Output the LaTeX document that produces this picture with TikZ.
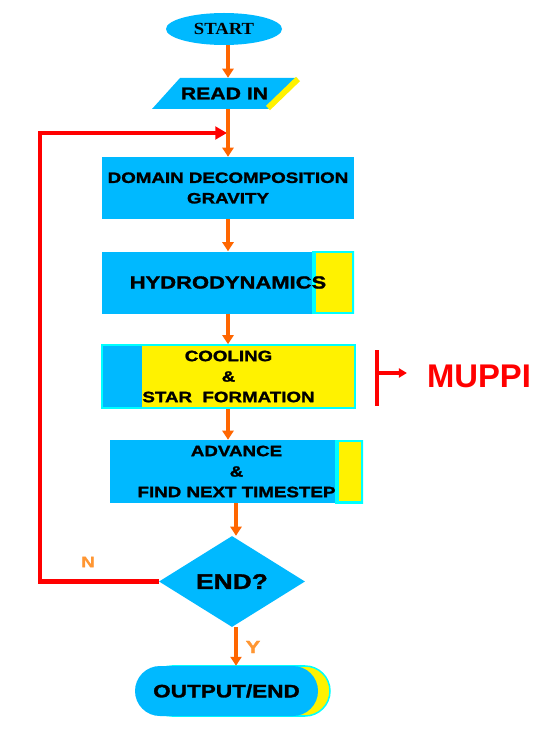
\documentclass[tikz,border=0pt]{standalone}
\usepackage{fontspec}
\setmainfont{Liberation Sans}
\newfontfamily\widefont{Liberation Sans}[FakeStretch=1.25, FakeBold=1.5]
\newfontfamily\startfont{Liberation Serif}[FakeStretch=1.1]
\usetikzlibrary{shapes.geometric,shapes.misc,arrows.meta}

\definecolor{boxblue}{RGB}{0,185,255}
\definecolor{flowarrow}{RGB}{255,102,0}
\definecolor{labelorange}{RGB}{255,150,50}
\definecolor{loopred}{RGB}{255,0,0}
\definecolor{edgecyan}{RGB}{0,255,255}

\def\px{0.03cm}                           % one pixel of the original chart

\tikzset{
  stepbox/.style={rectangle, fill=boxblue, inner sep=0pt,
      minimum width=252*\px, minimum height=62*\px, align=center,
      font=\widefont\bfseries\fontsize{12.8pt}{17.5pt}\selectfont},
  flow/.style={draw=flowarrow, line width=3pt,
      -{Triangle[width=9.4pt,length=7.7pt]}},
  redloop/.style={draw=loopred, line width=3.6pt,
      -{Triangle[width=10.8pt,length=10pt]}},
  flowlabel/.style={text=labelorange, inner sep=0pt,
      font=\widefont\bfseries\fontsize{12.8pt}{14pt}\selectfont},
  terminal/.style={rounded rectangle, inner sep=0pt,
      minimum width=183*\px, minimum height=50*\px},
}

\begin{document}
\begin{tikzpicture}[x=\px, y=-\px]

  % ================= page =================
  \fill[white] (0,0) rectangle (543,735);
  \useasboundingbox (0,0) rectangle (543,735);
  \coordinate (spine)    at (228,0);       % upper arrows
  \coordinate (spinelow) at (236,0);       % lower arrows

  % ================= start / read in =================
  \node[ellipse, fill=boxblue, inner sep=0pt,
        minimum width=116*\px, minimum height=32*\px,
        font=\startfont\bfseries\fontsize{14.5pt}{16pt}\selectfont]
        (start) at (224,29) {START};
  \fill[boxblue] (152,109) -- (180,78) -- (297,78) -- (270,109) -- cycle;
  \draw[yellow, line width=5pt] (268,108) -- (298,79);
  \node[inner sep=0pt, minimum height=31*\px,
        font=\widefont\bfseries\fontsize{14.5pt}{16pt}\selectfont]
        (readin) at (224.5,93.5) {READ IN};

  % ================= the steps =================
  \node[stepbox] (domain) at (228,188) {DOMAIN DECOMPOSITION\\GRAVITY};
  \node[stepbox, font=\widefont\bfseries\fontsize{15pt}{17pt}\selectfont,
        path picture={\filldraw[fill=yellow, draw=edgecyan, line width=2.6pt]
          ([xshift=-40*\px]path picture bounding box.north east)
          rectangle (path picture bounding box.south east);}]
        (hydro) at (228,282.5) {HYDRODYNAMICS};
  \node[stepbox, fill=yellow, draw=edgecyan, line width=1.3pt,
        minimum width=253*\px, minimum height=63*\px,
        path picture={\fill[boxblue]
          (path picture bounding box.north west)
          rectangle ([xshift=40*\px]path picture bounding box.south west);}]
        (cooling) at (228.5,376.5) {COOLING\\\&\\STAR\ \ FORMATION};
  \node[stepbox, minimum width=253*\px, minimum height=63*\px,
        path picture={\filldraw[fill=yellow, draw=edgecyan, line width=2.6pt]
          ([xshift=-26*\px]path picture bounding box.north east)
          rectangle (path picture bounding box.south east);}]
        (advance) at (236.5,471.5) {ADVANCE\\\&\\FIND NEXT TIMESTEP};

  % ================= decision / end =================
  \node[diamond, aspect=1.6, fill=boxblue, inner sep=0pt,
        minimum width=146*\px, minimum height=91*\px,
        font=\widefont\bfseries\fontsize{18pt}{20pt}\selectfont]
        (endq) at (232,581.5) {END?};
  \node[terminal, fill=yellow, draw=edgecyan, line width=1.3pt]
        (outshade) at (238.5,691) {};
  \node[terminal, fill=boxblue,
        font=\widefont\bfseries\fontsize{15.4pt}{17pt}\selectfont]
        (output) at (226.5,691) {OUTPUT/END};

  % ================= loop back (N) =================
  \coordinate (loopcorner) at (40,133);
  \coordinate (join)       at (227,133);
  \draw[redloop] (endq.west) -| (loopcorner) -- (join);
  \node[flowlabel] (nlabel) at (88,562) {N};

  % ================= main flow =================
  \draw[flow] (start.south -| spine)   -- (readin.north -| spine);
  \draw[flow] (readin.south -| spine)  -- (domain.north -| spine);
  \draw[flow] (domain.south -| spine)  -- (hydro.north -| spine);
  \draw[flow] (hydro.south -| spine)   -- (cooling.north -| spine);
  \draw[flow] (cooling.south -| spine) -- (advance.north -| spine);
  \draw[flow] (advance.south -| spinelow) -- (endq.north -| spinelow);
  \draw[flow] (endq.south -| spinelow)    -- (output.north -| spinelow);
  \node[flowlabel, font=\widefont\bfseries\fontsize{15pt}{17pt}\selectfont]
        (ylabel) at (253,647) {Y};

  % ================= MUPPI =================
  \node[text=loopred, inner sep=0pt,
        font=\bfseries\fontsize{28pt}{30pt}\selectfont]
        (muppi) at (479,376) {MUPPI};
  \coordinate (bartop) at (377,350);
  \coordinate (barbot) at (377,406);
  \coordinate (barmid) at (377,373);
  \draw[loopred, line width=2.6pt] (bartop) -- (barbot);
  \draw[loopred, line width=3pt, shorten >=17pt,
        -{Triangle[width=7.7pt,length=6.8pt]}] (barmid) -- (muppi.west |- barmid);

\end{tikzpicture}
\end{document}
